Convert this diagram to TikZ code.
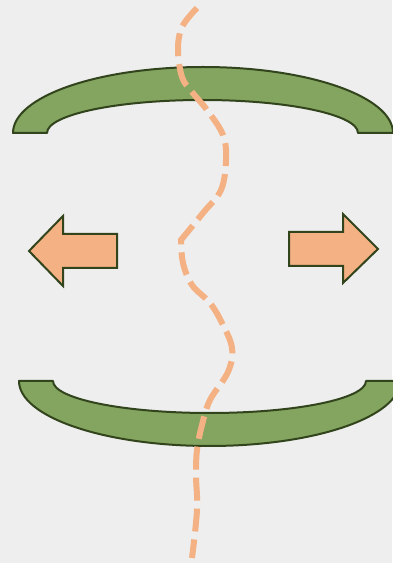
\documentclass[tikz,border=0pt]{standalone}
\usepackage{tikz}

\definecolor{bggray}{RGB}{238,238,238}
\definecolor{leaf}{RGB}{131,165,96}
\definecolor{leafdark}{RGB}{50,68,28}
\definecolor{peach}{RGB}{244,177,131}

\begin{document}
\begin{tikzpicture}[x=1pt,y=1pt]
				\tikzstyle{band} = [fill=leaf,draw=leafdark,line width=2pt,line join=round];
				\tikzstyle{push} = [fill=peach,draw=leafdark,line width=2pt,line join=miter];
				\tikzstyle{wave} = [draw=peach,line width=6pt,dash pattern=on 23pt off 8pt];
				\fill[bggray] (0,0) rectangle (392,563);
				\useasboundingbox (0,0) rectangle (392,563);
				% upper and lower bands
				\draw[band] (13,430) arc[start angle=180,end angle=0,x radius=190,y radius=66] -- (358,430) arc[start angle=0,end angle=180,x radius=155.5,y radius=33] -- cycle;
				\draw[band] (19,182) arc[start angle=180,end angle=360,x radius=190.5,y radius=65] -- (366,182) arc[start angle=0,end angle=-180,x radius=156.5,y radius=32] -- cycle;
				% arrows
				\draw[push] (29,312) -- (63,347) -- (63,329) -- (117,329) -- (117,295) -- (63,295) -- (63,277) -- cycle;
				\draw[push] (378,314) -- (343,349) -- (343,331) -- (289,331) -- (289,297) -- (343,297) -- (343,280) -- cycle;
				% the crack
				\draw[wave] plot[smooth,tension=0.6] coordinates {(197,555) (182,536) (178,513) (182,486) (192,471) (207,453) (223,428) (226,403) (221,373) (203,350) (181,323)}
					-- plot[smooth,tension=0.6] coordinates {(181,323) (183,300) (192,278) (210,260) (222,240) (232,215) (228,191) (210,163) (202,138) (197,113) (196,88) (197,53) (192,5)};
			\end{tikzpicture}
\end{document}
